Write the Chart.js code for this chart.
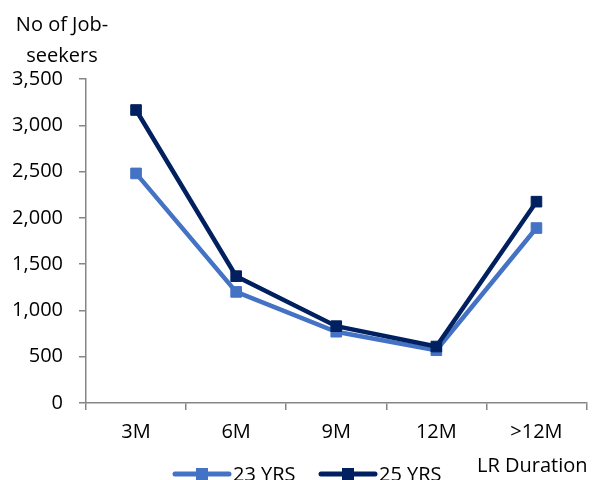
<!DOCTYPE html>
<html>
<head>
<meta charset="utf-8">
<script src="https://cdn.jsdelivr.net/npm/chart.js@4/dist/chart.umd.min.js"></script>
<style>
  html, body { margin: 0; padding: 0; background: #ffffff; width: 595px; height: 480px; overflow: hidden; }
  #wrap { width: 595px; height: 490px; }
</style>
</head>
<body>
<div id="wrap"><canvas id="c" width="595" height="490"></canvas></div>
<script>
const categories = ['3M', '6M', '9M', '12M', '>12M'];
const seriesNames = ['23 YRS', '25 YRS'];
const yrs23 = [2480, 1200, 770, 570, 1890];
const yrs25 = [3165, 1370, 830, 610, 2175];
const yTicks = [0, 500, 1000, 1500, 2000, 2500, 3000, 3500];
const yTitleLines = ['No of Job-', 'seekers'];
const xTitle = 'LR Duration';

const FONT = '"Open Sans", "Liberation Sans", sans-serif';
const TEXT = '#000000';
const AXIS = '#868686';
const LIGHT = '#4472C4';
const DARK = '#002060';

// Axis titles and the line+marker legend along the bottom edge
const annotations = {
  id: 'annotations',
  afterDraw(chart) {
    const ctx = chart.ctx;
    ctx.save();
    ctx.font = '20px ' + FONT;
    ctx.fillStyle = TEXT;
    ctx.textBaseline = 'alphabetic';
    ctx.textAlign = 'center';
    ctx.fillText(yTitleLines[0], 62, 31);
    ctx.fillText(yTitleLines[1], 62, 62);
    ctx.textAlign = 'left';
    ctx.fillText(xTitle, 477, 472);

    const items = [
      { x: 175, ds: chart.data.datasets[0] },
      { x: 321, ds: chart.data.datasets[1] }
    ];
    const ly = 474;
    items.forEach(it => {
      ctx.strokeStyle = it.ds.borderColor;
      ctx.lineWidth = 5;
      ctx.lineCap = 'round';
      ctx.beginPath();
      ctx.moveTo(it.x, ly);
      ctx.lineTo(it.x + 54, ly);
      ctx.stroke();
      ctx.fillStyle = it.ds.pointBackgroundColor;
      ctx.fillRect(it.x + 27 - 6, ly - 6, 12, 12);
      ctx.fillStyle = TEXT;
      ctx.fillText(it.ds.label, it.x + 58, 481);
    });
    ctx.restore();
  }
};

new Chart(document.getElementById('c'), {
  type: 'line',
  data: {
    labels: categories,
    datasets: [
      {
        label: seriesNames[0],
        data: yrs23,
        borderColor: LIGHT,
        backgroundColor: LIGHT,
        pointBackgroundColor: LIGHT,
        pointBorderColor: LIGHT,
        borderWidth: 4.5,
        pointStyle: 'rect',
        pointRadius: 7.5,
        pointBorderWidth: 1,
        tension: 0,
        order: 2
      },
      {
        label: seriesNames[1],
        data: yrs25,
        borderColor: DARK,
        backgroundColor: DARK,
        pointBackgroundColor: DARK,
        pointBorderColor: DARK,
        borderWidth: 4.5,
        pointStyle: 'rect',
        pointRadius: 7.5,
        pointBorderWidth: 1,
        tension: 0,
        order: 1
      }
    ]
  },
  options: {
    responsive: false,
    animation: false,
    layout: { padding: { top: 79, left: 0, right: 0, bottom: 0 } },
    plugins: {
      legend: { display: false },
      tooltip: { enabled: false }
    },
    scales: {
      x: {
        offset: true,
        grid: {
          offset: true,
          drawOnChartArea: false,
          drawTicks: true,
          tickLength: 7,
          color: AXIS,
          lineWidth: 1.5
        },
        border: { color: AXIS, width: 1.5 },
        ticks: {
          color: TEXT,
          font: { family: FONT, size: 20 },
          padding: 10,
          maxRotation: 0
        },
        afterFit(scale) { scale.height = 87; }
      },
      y: {
        min: 0,
        max: 3500,
        afterBuildTicks(scale) { scale.ticks = yTicks.map(v => ({ value: v })); },
        grid: {
          drawOnChartArea: false,
          drawTicks: true,
          tickLength: 7,
          color: AXIS,
          lineWidth: 1.5
        },
        border: { color: AXIS, width: 1.5 },
        ticks: {
          color: TEXT,
          font: { family: FONT, size: 20 },
          padding: 16,
          callback: v => Number(v).toLocaleString('en-US')
        },
        afterFit(scale) { scale.width = 86; }
      }
    }
  },
  plugins: [annotations]
});
</script>
</body>
</html>
